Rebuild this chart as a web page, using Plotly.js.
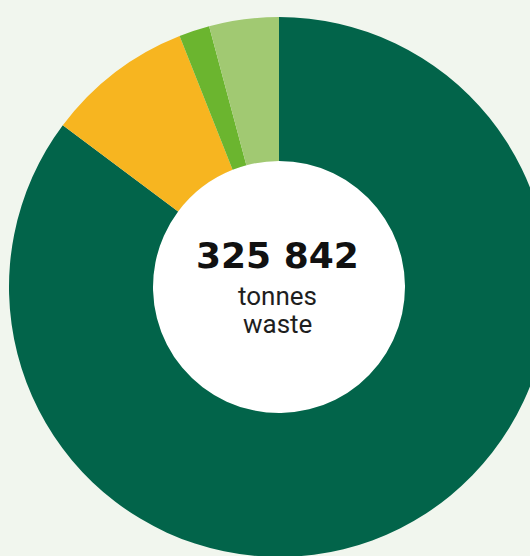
<!DOCTYPE html>
<html>
<head>
<meta charset="utf-8">
<script src="https://cdn.plot.ly/plotly-3.0.1.min.js"></script>
<style>
  html, body { margin: 0; padding: 0; overflow: hidden; background: #F1F6EE; }
  #chart { width: 600px; height: 600px; }
</style>
</head>
<body>
<div id="chart"></div>
<script>
// Data (tonnes of waste per stream)
const categories = ["Waste stream A", "Waste stream B", "Waste stream C", "Waste stream D"];
const tonnes = [277689, 28602, 5974, 13577];
const sliceColors = ["#02644A", "#F7B520", "#6BB52F", "#A1C972"];
const totalLabel = "325 842";
const unitLines = ["tonnes", "waste"];

const W = 600, H = 600;
const cx = 279, cy = 287, R = 270, holeR = 126;

const trace = {
  type: "pie",
  labels: categories,
  values: tonnes,
  marker: { colors: sliceColors, line: { width: 0 } },
  sort: false,
  direction: "clockwise",
  rotation: 0,
  hole: holeR / R,
  textinfo: "none",
  hoverinfo: "none",
  domain: { x: [(cx - R) / W, (cx + R) / W], y: [1 - (cy + R) / H, 1 - (cy - R) / H] }
};

const layout = {
  width: W, height: H,
  margin: { l: 0, r: 0, t: 0, b: 0 },
  paper_bgcolor: "#F1F6EE",
  showlegend: false,
  shapes: [{
    type: "circle", xref: "paper", yref: "paper", layer: "below",
    x0: (cx - holeR) / W, x1: (cx + holeR) / W,
    y0: 1 - (cy + holeR) / H, y1: 1 - (cy - holeR) / H,
    fillcolor: "#FFFFFF", line: { width: 0 }
  }],
  annotations: [
    { text: totalLabel, xref: "paper", yref: "paper", x: 277.5 / W, y: 1 - 255 / H,
      xanchor: "center", yanchor: "middle", showarrow: false,
      font: { family: "DejaVu Sans", size: 36, weight: 700, color: "#111111" } },
    { text: unitLines[0], xref: "paper", yref: "paper", x: 277.5 / W, y: 1 - 296 / H,
      xanchor: "center", yanchor: "middle", showarrow: false,
      font: { family: "Roboto", size: 26, color: "#1E1E1E" } },
    { text: unitLines[1], xref: "paper", yref: "paper", x: 277.5 / W, y: 1 - 324 / H,
      xanchor: "center", yanchor: "middle", showarrow: false,
      font: { family: "Roboto", size: 26, color: "#1E1E1E" } }
  ]
};

Plotly.newPlot("chart", [trace], layout, { staticPlot: true, displayModeBar: false });
</script>
</body>
</html>
